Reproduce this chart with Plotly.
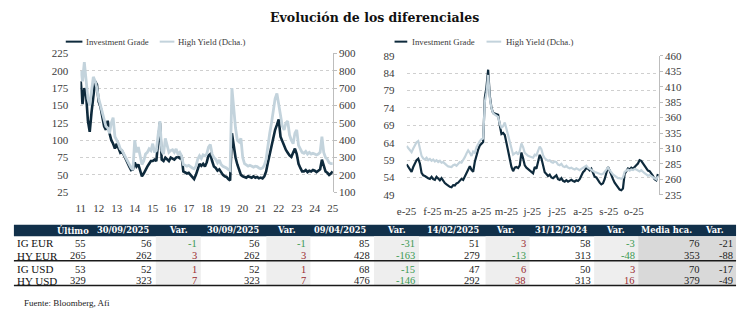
import plotly.graph_objects as go
import pandas as pd

# ---------------- DATA ----------------
title_text = "Evolución de los diferenciales"
series_names = ["Investment Grade", "High Yield (Dcha.)"]

# Left chart (2011-2025, category axis, evenly spaced labels)
left_ticktext = ["11", "12", "13", "14", "15", "16", "17", "18", "19", "20", "21", "22", "23", "24", "25"]
left_ig = [185, 152, 175, 165, 128, 112, 140, 165, 185, 180,
           155, 148, 135, 120, 115, 128, 110, 100, 95, 88,
           95, 88, 82, 84, 78, 72, 68, 62, 57, 58,
           68, 62, 65, 55, 48, 52, 58, 62, 66, 70,
           70, 72, 70, 100, 125, 72, 70, 75, 72, 70,
           75, 73, 72, 75, 76, 74, 78, 55, 54, 52,
           53, 50, 47, 44, 50, 60, 66, 63, 66, 62,
           68, 78, 80, 70, 62, 60, 56, 58, 53, 50,
           48, 47, 44, 42, 110, 90, 75, 65, 58, 50,
           48, 47, 46, 48, 47, 46, 48, 46, 47, 45,
           46, 45, 48, 55, 68, 80, 92, 105, 115, 122,
           130, 105, 98, 92, 86, 82, 78, 76, 82, 88,
           80, 66, 60, 55, 55, 57, 54, 56, 55, 57,
           56, 54, 56, 58, 72, 62, 55, 53, 50, 52, 55]
left_hy = [800, 740, 850, 760, 640, 600, 680, 765, 740, 700,
           640, 600, 570, 520, 480, 470, 440, 500, 530, 420,
           400, 380, 350, 340, 320, 300, 280, 265, 240, 230,
           400, 330, 360, 310, 260, 280, 320, 330, 350, 340,
           380, 330, 340, 430, 510, 340, 320, 410, 360, 330,
           340, 345, 330, 350, 320, 330, 310, 260, 255, 250,
           255, 245, 240, 235, 250, 290, 310, 295, 315, 310,
           320, 360, 375, 320, 300, 290, 270, 285, 260, 250,
           245, 240, 230, 225, 700, 560, 470, 400, 390, 410,
           300, 265, 255, 250, 255, 250, 245, 250, 248, 240,
           235, 240, 255, 290, 380, 440, 500, 580, 640, 670,
           600, 540, 480, 460, 500, 510, 430, 400, 380, 440,
           460, 370, 350, 330, 325, 335, 320, 330, 320, 325,
           320, 315, 320, 330, 420, 330, 300, 290, 270, 265, 265]

# Right chart (2025, every second day from 1 Jan)
right_start = "2025-01-01"
right_ig = [57.8, 57.0, 56.0, 55.6, 57.0, 58.0, 59.0, 59.4, 58.0, 55.3,
            54.6, 54.4, 54.0, 53.8, 53.6, 54.2, 53.5, 53.3, 54.2, 53.6,
            53.2, 53.8, 53.0, 52.4, 52.0, 51.5, 51.3, 51.2, 51.8, 51.7,
            52.3, 52.5, 53.2, 53.6, 53.3, 54.2, 55.0, 56.0, 57.2, 56.2,
            55.6, 58.5, 60.5, 62.0, 63.2, 63.6, 64.2, 77.0, 80.0, 85.0,
            77.5, 74.0, 72.5, 72.4, 72.3, 72.0, 69.0, 66.5, 66.8, 66.2,
            64.0, 61.5, 59.5, 57.0, 55.8, 56.8, 57.0, 56.7, 57.5, 61.2,
            59.5, 57.5, 56.8, 56.4, 55.8, 55.5, 55.2, 57.0, 56.5, 58.5,
            60.5, 59.5, 57.0, 55.5, 55.0, 54.4, 54.8, 54.0, 53.8, 54.3,
            54.6, 53.5, 53.3, 53.8, 53.0, 52.8, 53.2, 52.8, 53.0, 53.3,
            53.0, 52.8, 53.2, 53.0, 53.5, 54.5, 55.5, 56.0, 56.8, 56.5,
            56.0, 56.5, 55.0, 54.2, 54.0, 53.0, 52.5, 52.0, 52.3, 53.5,
            55.5, 57.0, 56.0, 54.5, 53.5, 52.5, 51.8, 51.0, 50.5, 50.3,
            50.8, 55.0, 56.0, 56.6, 56.3, 56.8, 56.5, 56.9, 57.5, 58.0,
            59.0, 58.8, 58.0, 57.3, 56.8, 56.0, 55.8, 55.2, 54.5, 53.5,
            53.2, 55.0]
right_hy = [314, 310, 306, 304, 310, 316, 320, 322, 312, 298,
            294, 292, 295, 291, 293, 290, 292, 289, 291, 288,
            290, 287, 288, 285, 283, 281, 281, 280, 283, 284,
            282, 285, 288, 287, 291, 296, 302, 307, 303, 298,
            305, 303, 312, 318, 322, 325, 326, 385, 400, 429,
            392, 375, 367, 365, 363, 361, 350, 344, 346, 352,
            342, 332, 322, 310, 300, 302, 304, 300, 306, 318,
            312, 303, 300, 298, 297, 296, 295, 300, 299, 306,
            313, 309, 299, 294, 292, 290, 291, 288, 287, 289,
            288, 284, 283, 285, 281, 280, 282, 279, 278, 279,
            277, 276, 278, 276, 275, 277, 279, 281, 282, 279,
            277, 276, 274, 272, 271, 270, 269, 268, 269, 272,
            276, 279, 275, 271, 268, 266, 264, 262, 262, 261,
            263, 272, 274, 276, 274, 276, 275, 277, 276, 274,
            273, 275, 272, 270, 268, 266, 267, 265, 263, 261,
            260, 265]
right_tickdates = ["2025-01-01", "2025-02-01", "2025-03-01", "2025-04-01", "2025-05-01",
                   "2025-06-01", "2025-07-01", "2025-08-01", "2025-09-01", "2025-10-01"]
right_ticktext = ["e-25", "f-25", "m-25", "a-25", "m-25", "j-25", "j-25", "a-25", "s-25", "o-25"]

# Table
table_headers = ["Último", "30/09/2025", "Var.", "30/09/2025", "Var.", "09/04/2025", "Var.",
                 "14/02/2025", "Var.", "31/12/2024", "Var.", "Media hca.", "Var."]
row_labels = ["IG EUR", "HY EUR", "IG USD", "HY USD"]
ultimo = [55, 265, 53, 329]
val_30sep_a = [56, 262, 52, 323]
var_30sep_a = [-1, 3, 1, 7]
val_30sep_b = [56, 262, 52, 323]
var_30sep_b = [-1, 3, 1, 7]
val_09abr = [85, 428, 68, 476]
var_09abr = [-31, -163, -15, -146]
val_14feb = [51, 279, 47, 292]
var_14feb = [3, -13, 6, 38]
val_31dic = [58, 313, 50, 313]
var_31dic = [-3, -48, 3, 16]
media_hca = [76, 353, 70, 379]
var_media = [-21, -88, -17, -49]
source_text = "Fuente: Bloomberg, Afi"

# ---------------- STYLE ----------------
W, H = 744, 328
DARK = "#0e2a3c"
LIGHT = "#c3d3dc"
NAVY = "#11304a"
GRID = "#cfcfcf"
TXT = "#3a3a3a"
GREEN = "#3b9a52"
RED = "#9b2b30"
SERIF = "Liberation Serif"
SLAB = "DejaVu Serif"


def px(x):
    return x / W


def py(y):
    return 1 - y / H


left_x = list(range(len(left_ig)))
right_x = pd.date_range(right_start, periods=len(right_ig), freq="2D")

fig = go.Figure()
fig.add_trace(go.Scatter(x=left_x, y=left_ig, mode="lines", line=dict(color=DARK, width=2.6),
                         xaxis="x", yaxis="y", showlegend=False, name=series_names[0]))
fig.add_trace(go.Scatter(x=left_x, y=left_hy, mode="lines", line=dict(color=LIGHT, width=2.8),
                         xaxis="x", yaxis="y2", showlegend=False, name=series_names[1]))
fig.add_trace(go.Scatter(x=right_x, y=right_ig, mode="lines", line=dict(color=DARK, width=2.2),
                         xaxis="x2", yaxis="y3", showlegend=False, name=series_names[0]))
fig.add_trace(go.Scatter(x=right_x, y=right_hy, mode="lines", line=dict(color=LIGHT, width=2.2),
                         xaxis="x2", yaxis="y4", showlegend=False, name=series_names[1]))

tickfont = dict(family=SERIF, size=11, color=TXT)

fig.update_layout(
    width=W, height=H, margin=dict(l=0, r=0, t=0, b=0),
    paper_bgcolor="white", plot_bgcolor="white",
    xaxis=dict(domain=[px(72), px(330)], anchor="y", range=[-0.15, 140.1],
               tickvals=list(range(0, 141, 10)), ticktext=left_ticktext,
               showgrid=False, zeroline=False, showline=False,
               ticks="outside", ticklen=6, tickcolor="rgba(0,0,0,0)", tickfont=tickfont),
    yaxis=dict(domain=[py(193.3), py(49.3)], anchor="x", range=[25, 225], dtick=25, tick0=25,
               showgrid=True, gridcolor=GRID, griddash="dot", gridwidth=1, zeroline=False,
               ticks="outside", ticklen=9, tickcolor="rgba(0,0,0,0)", tickfont=tickfont),
    yaxis2=dict(overlaying="y", side="right", anchor="x", range=[100, 900], dtick=100, tick0=100,
                showgrid=False, zeroline=False, showline=True, linecolor="#bdbdbd", linewidth=1,
                ticks="outside", ticklen=3, tickcolor="#bdbdbd", tickfont=tickfont),
    xaxis2=dict(domain=[px(405.3), px(663)], anchor="y3", type="date",
                range=["2025-01-01", "2025-10-31"],
                tickvals=right_tickdates, ticktext=right_ticktext,
                showgrid=False, zeroline=False, showline=False,
                ticks="outside", ticklen=6, tickcolor="rgba(0,0,0,0)", tickfont=tickfont),
    yaxis3=dict(domain=[py(196), py(51.7)], anchor="x2", range=[49, 89], dtick=5, tick0=49,
                showgrid=True, gridcolor=GRID, griddash="dot", gridwidth=1, zeroline=False,
                ticks="outside", ticklen=9, tickcolor="rgba(0,0,0,0)", tickfont=tickfont),
    yaxis4=dict(overlaying="y3", side="right", anchor="x2", range=[235, 460], dtick=25, tick0=235,
                showgrid=False, zeroline=False, showline=True, linecolor="#bdbdbd", linewidth=1,
                ticks="outside", ticklen=3, tickcolor="#bdbdbd", tickfont=tickfont),
)

shapes = []
annotations = []

# Title
annotations.append(dict(text="<b>" + title_text + "</b>", x=px(372), y=py(12), xref="paper", yref="paper",
                        xanchor="center", yanchor="middle", showarrow=False,
                        font=dict(family=SLAB, size=12.5, color="#111111")))

# Legends (manual)
leg_font = dict(family=SERIF, size=8.8, color=TXT)
for (x0, x1, tx, color, name) in [(57, 74, 76, DARK, series_names[0]), (153, 168, 170, LIGHT, series_names[1]),
                                  (393, 406, 409, DARK, series_names[0]), (487, 502, 505, LIGHT, series_names[1])]:
    shapes.append(dict(type="line", xref="paper", yref="paper", x0=px(x0), x1=px(x1), y0=py(37), y1=py(37),
                       line=dict(color=color, width=2)))
    annotations.append(dict(text=name, x=px(tx), y=py(37), xref="paper", yref="paper", xanchor="left",
                            yanchor="middle", showarrow=False, font=leg_font))

# Table backgrounds
tbl_top, hdr_bot, tbl_bot = 227, 239, 290
shapes.append(dict(type="rect", xref="paper", yref="paper", x0=px(4), x1=px(742), y0=py(hdr_bot), y1=py(tbl_top),
                   fillcolor=NAVY, line=dict(width=0), layer="below"))
for (a, b) in [(149, 195), (262, 307), (372, 418), (486, 531), (597, 642)]:
    shapes.append(dict(type="rect", xref="paper", yref="paper", x0=px(a), x1=px(b), y0=py(tbl_bot), y1=py(hdr_bot),
                       fillcolor="#eeeeee", line=dict(width=0), layer="below"))
shapes.append(dict(type="rect", xref="paper", yref="paper", x0=px(642), x1=px(742), y0=py(tbl_bot), y1=py(hdr_bot),
                   fillcolor="#d9d9d9", line=dict(width=0), layer="below"))
for yl in [264.5, 290]:
    shapes.append(dict(type="line", xref="paper", yref="paper", x0=px(4), x1=px(742), y0=py(yl), y1=py(yl),
                       line=dict(color="#1a1a1a", width=1.5)))

hdr_centers = [64, 115.5, 172, 227.5, 283, 337.5, 395, 452.5, 506.5, 563.5, 619, 671, 720]
for h, cx in zip(table_headers, hdr_centers):
    annotations.append(dict(text="<b>" + h + "</b>", x=px(cx), y=py(233), xref="paper", yref="paper",
                            xanchor="center", yanchor="middle", showarrow=False,
                            font=dict(family=SLAB, size=8.3, color="white")))

row_y = [246.3, 259.3, 273, 285.3]
columns = [ultimo, val_30sep_a, var_30sep_a, val_30sep_b, var_30sep_b, val_09abr, var_09abr,
           val_14feb, var_14feb, val_31dic, var_31dic, media_hca, var_media]
is_var = [False, False, True, False, True, False, True, False, True, False, True, False, False]
right_edges = [80, 147, 193, 258, 305, 370, 416, 482, 529, 596, 641, 707, 741]
for r, (lab, yy) in enumerate(zip(row_labels, row_y)):
    annotations.append(dict(text=lab, x=px(5), y=py(yy), xref="paper", yref="paper", xanchor="left",
                            yanchor="middle", showarrow=False, font=dict(family=SERIF, size=11, color="#111111")))
    for c, col in enumerate(columns):
        v = col[r]
        color = "#222222"
        if is_var[c]:
            color = GREEN if v < 0 else RED
        annotations.append(dict(text=str(v), x=px(right_edges[c]), y=py(yy), xref="paper", yref="paper",
                                xanchor="right", yanchor="middle", showarrow=False,
                                font=dict(family=SERIF, size=10.5, color=color)))

annotations.append(dict(text=source_text, x=px(12), y=py(308), xref="paper", yref="paper", xanchor="left",
                        yanchor="middle", showarrow=False, font=dict(family=SERIF, size=9, color="#222222")))

fig.update_layout(shapes=shapes, annotations=annotations)
fig.write_html("out.html")
